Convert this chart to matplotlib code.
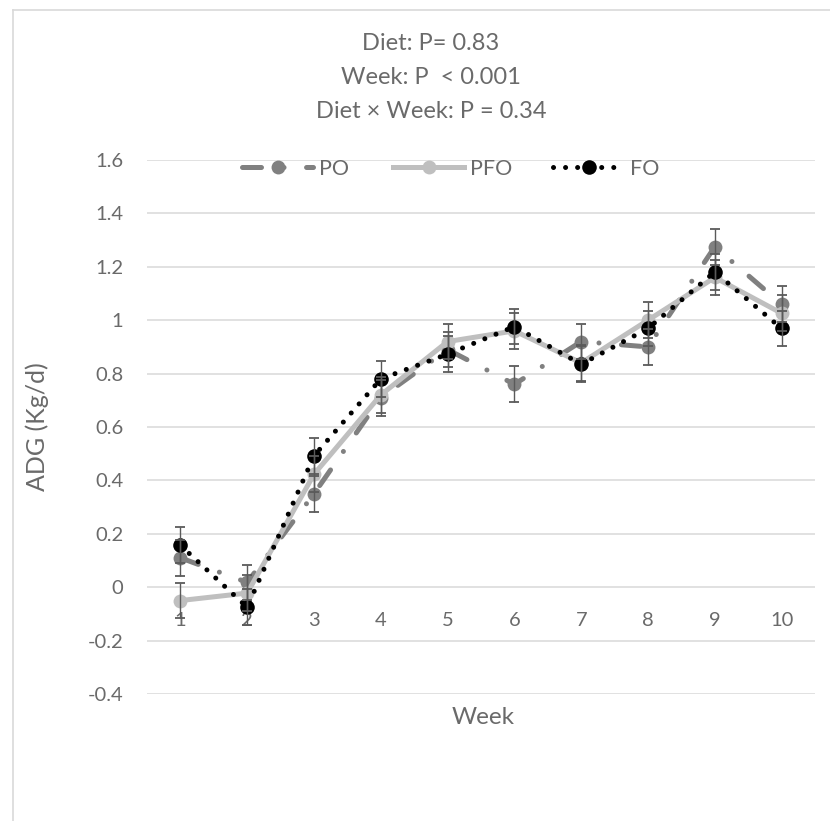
import matplotlib
matplotlib.use("Agg")
import matplotlib.pyplot as plt
from matplotlib.lines import Line2D

# ---- data ----
weeks = [1, 2, 3, 4, 5, 6, 7, 8, 9, 10]
week_labels = ["1", "2", "3", "4", "5", "6", "7", "8", "9", "10"]
po = [0.11, 0.018, 0.35, 0.71, 0.89, 0.76, 0.92, 0.90, 1.275, 1.06]
pfo = [-0.05, -0.022, 0.423, 0.72, 0.92, 0.96, 0.84, 1.00, 1.16, 1.026]
fo = [0.157, -0.075, 0.492, 0.78, 0.873, 0.976, 0.835, 0.969, 1.181, 0.969]
se = 0.067
yticks = [-0.4, -0.2, 0, 0.2, 0.4, 0.6, 0.8, 1.0, 1.2, 1.4, 1.6]
ytick_labels = ["-0.4", "-0.2", "0", "0.2", "0.4", "0.6", "0.8", "1", "1.2", "1.4", "1.6"]
title_lines = ["Diet: P= 0.83", "Week: P  < 0.001", "Diet \u00d7 Week: P = 0.34"]

plt.rcParams['font.family'] = ['Lato', 'DejaVu Sans']
TXT = "#6a6a6a"
W, H = 830, 821
fig = plt.figure(figsize=(W / 100, H / 100), dpi=100)
ax = fig.add_axes([147 / W, 1 - 694 / H, (815 - 147) / W, (694 - 160) / H])

ax.set_xlim(0.5, 10.5)
ax.set_ylim(-0.4, 1.6)
ax.set_yticks(yticks)
ax.set_yticklabels(ytick_labels)
ax.set_xticks(weeks)
ax.set_xticklabels(week_labels)
for s in ['top', 'right', 'left']:
    ax.spines[s].set_visible(False)
ax.spines['bottom'].set_position(('data', 0))
ax.spines['bottom'].set_visible(False)
ax.grid(axis='y', color='#d9d9d9', linewidth=1.1, zorder=0)
ax.set_axisbelow(True)
ax.tick_params(axis='y', length=0, pad=17, labelsize=14.5, labelcolor=TXT)
ax.tick_params(axis='x', length=0, pad=18, labelsize=14.5, labelcolor=TXT)

lw = 3.6
# PO: long dash dot, mid gray
h_po, = ax.plot(weeks, po, color='#808080', lw=lw, linestyle=(0, (3.8, 4.5, 0.01, 4.5)),
                dash_capstyle='round', solid_capstyle='round', marker='o', markersize=10,
                markeredgewidth=0, label='PO', zorder=3)
# PFO: solid light gray
h_pfo, = ax.plot(weeks, pfo, color='#bfbfbf', lw=lw, linestyle='-', solid_joinstyle='round',
                 marker='o', markersize=10, markeredgewidth=0, label='PFO', zorder=4)
# FO: round dots black
h_fo, = ax.plot(weeks, fo, color='black', lw=lw, linestyle=(0, (0.01, 2.4)),
                dash_capstyle='round', marker='o', markersize=10.5, markeredgewidth=0,
                label='FO', zorder=5)

for vals in (po, pfo, fo):
    ax.errorbar(weeks, vals, yerr=se, fmt='none', ecolor='#5a5a5a', elinewidth=1.0,
                capsize=3.4, capthick=1.3, zorder=6)

# legend entries placed individually (equal spacing like the reference)
for h, lab, xpx in [(h_po, 'PO', 242), (h_pfo, 'PFO', 393), (h_fo, 'FO', 553)]:
    lg = fig.legend([h], [lab], loc='center left', bbox_to_anchor=(xpx / W, 1 - 169 / H),
                    bbox_transform=fig.transFigure, frameon=False, fontsize=15.5,
                    handlelength=3.3, handletextpad=0.27, borderpad=0, borderaxespad=0,
                    numpoints=1)
    for t in lg.get_texts():
        t.set_color(TXT)

# titles
for line, yy in zip(title_lines, [44, 77, 111]):
    fig.text(431 / W, 1 - yy / H, line, ha='center', va='center', fontsize=17, color=TXT)

fig.text(483 / W, 1 - 717 / H, "Week", ha='center', va='center', fontsize=17.5, color=TXT)
fig.text(37 / W, 1 - 427 / H, "ADG (Kg/d)", ha='center', va='center', rotation=90,
         fontsize=18, color=TXT)

# chart border (left and top visible)
fig.add_artist(Line2D([13 / W, 13 / W], [0, 1 - 10 / H], transform=fig.transFigure,
                      color='#d9d9d9', lw=1.2))
fig.add_artist(Line2D([13 / W, 1], [1 - 10 / H, 1 - 10 / H], transform=fig.transFigure,
                      color='#d9d9d9', lw=1.2))

fig.savefig("out.png", dpi=100)
